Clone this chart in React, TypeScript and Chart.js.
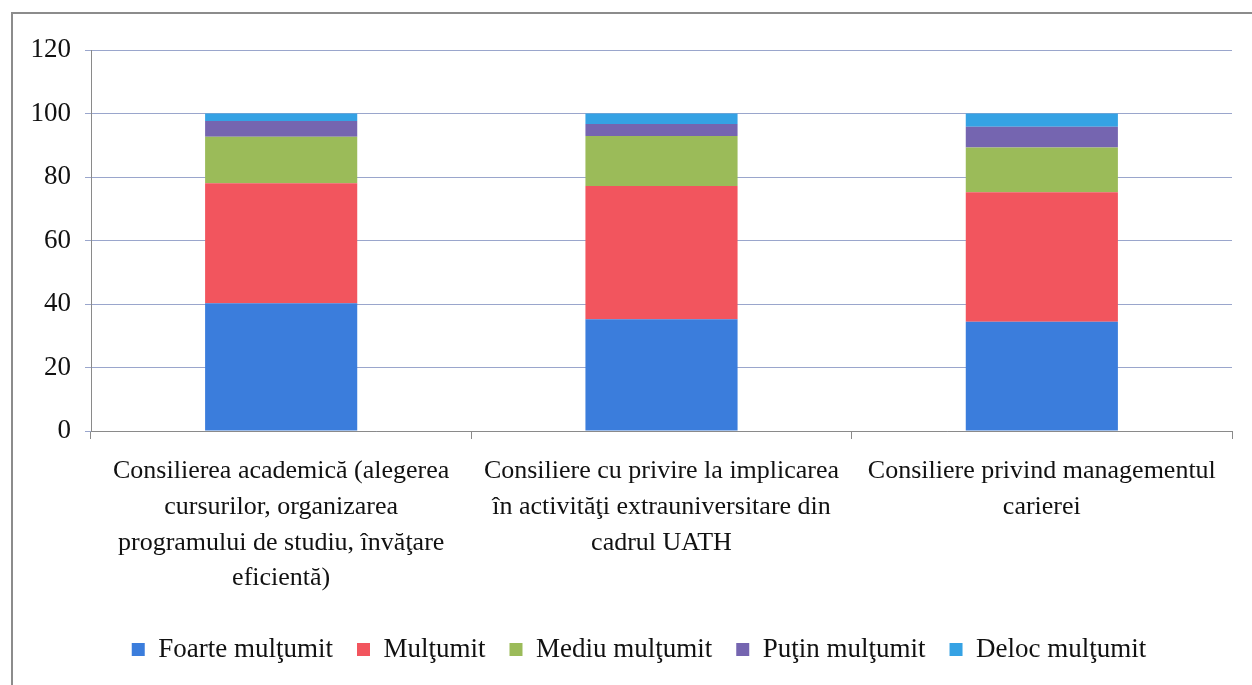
import React, { useEffect, useRef } from "react";
import { Chart, registerables } from "chart.js";

Chart.register(...registerables);

const categories: string[][] = [
  ["Consilierea academică (alegerea", "cursurilor, organizarea", "programului de studiu, învăţare", "eficientă)"],
  ["Consiliere cu privire la implicarea", "în activităţi extrauniversitare din", "cadrul UATH"],
  ["Consiliere privind managementul", "carierei"],
];

const foarteMultumit = [40.2, 35.2, 34.4];
const multumit = [37.8, 42.0, 40.8];
const mediuMultumit = [14.7, 15.7, 14.1];
const putinMultumit = [4.9, 3.8, 6.5];
const delocMultumit = [2.4, 3.3, 4.2];

const seriesNames = ["Foarte mulţumit", "Mulţumit", "Mediu mulţumit", "Puţin mulţumit", "Deloc mulţumit"];
const seriesColors = ["#3b7ddc", "#f2555e", "#9bbb59", "#7565b0", "#35a2e4"];

const FONT = "'Liberation Serif', 'Times New Roman', serif";

const legendShift = {
  id: "legendShift",
  afterLayout(chart: any) {
    const lg = chart.legend;
    if (lg) {
      lg.left += 10;
      lg.right += 10;
    }
  },
};

export default function App() {
  const ref = useRef<HTMLCanvasElement>(null);

  useEffect(() => {
    document.body.style.margin = "0";
    document.body.style.overflow = "hidden";
    const canvas = ref.current;
    if (!canvas) return;
    const values = [foarteMultumit, multumit, mediuMultumit, putinMultumit, delocMultumit];
    const chart = new Chart(canvas, {
      type: "bar",
      data: {
        labels: categories,
        datasets: values.map((v, i) => ({
          label: seriesNames[i],
          data: v,
          backgroundColor: seriesColors[i],
          borderWidth: 0,
          categoryPercentage: 1,
          barPercentage: 0.4,
        })),
      },
      plugins: [legendShift],
      options: {
        animation: false,
        responsive: false,
        maintainAspectRatio: false,
        layout: { padding: { left: 26, right: 20, top: 50, bottom: 12 } },
        plugins: {
          tooltip: { enabled: false },
          legend: {
            position: "bottom",
            labels: {
              font: { family: FONT, size: 27 },
              color: "#111",
              boxWidth: 13,
              boxHeight: 13,
              padding: 24,
            },
          },
        },
        scales: {
          x: {
            stacked: true,
            grid: {
              offset: true,
              drawOnChartArea: false,
              drawTicks: true,
              tickLength: 8,
              color: "#8a8a8a",
            },
            border: { color: "#8a8a8a", width: 1 },
            ticks: {
              autoSkip: false,
              maxRotation: 0,
              minRotation: 0,
              padding: 14,
              color: "#111",
              font: { family: FONT, size: 26, lineHeight: 1.38 },
            },
            afterFit: (scale: any) => {
              scale.height = 181;
            },
          },
          y: {
            stacked: true,
            min: 0,
            max: 120,
            grid: {
              color: "#9aa6cc",
              tickLength: 6,
              lineWidth: 1,
            },
            border: { color: "#8a8a8a", width: 1 },
            ticks: {
              stepSize: 20,
              padding: 14,
              color: "#111",
              font: { family: FONT, size: 27 },
            },
            afterFit: (scale: any) => {
              scale.width = 65;
            },
          },
        },
      },
    });
    return () => chart.destroy();
  }, []);

  return (
    <div style={{ position: "relative", width: 1252, height: 685, background: "#fff", overflow: "hidden" }}>
      <canvas ref={ref} width={1252} height={685} style={{ position: "absolute", left: 0, top: 0 }} />
      <div
        style={{
          position: "absolute",
          left: 11,
          top: 12,
          width: 1300,
          height: 700,
          borderLeft: "2px solid #8c8c8c",
          borderTop: "2px solid #8c8c8c",
          pointerEvents: "none",
        }}
      />
    </div>
  );
}
